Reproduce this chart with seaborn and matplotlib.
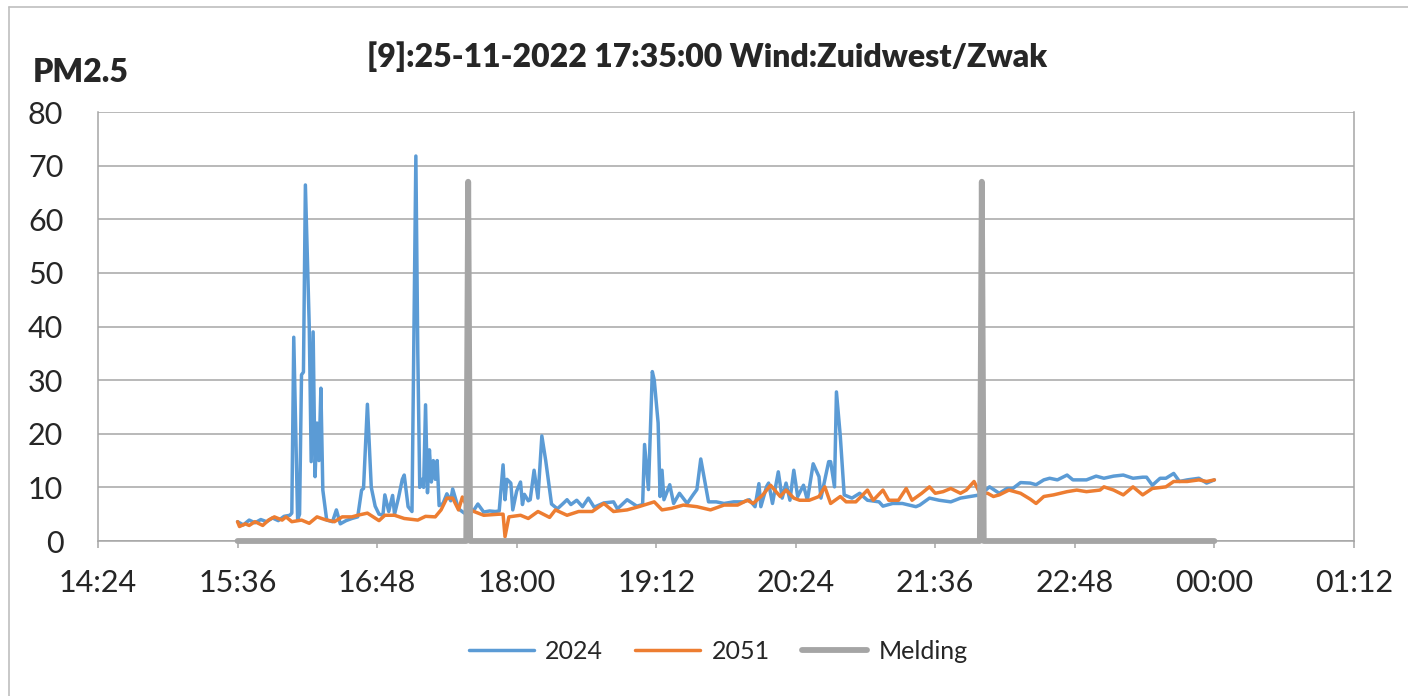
import pandas as pd
import matplotlib
matplotlib.use("Agg")
import matplotlib.pyplot as plt
import matplotlib.dates as mdates
from matplotlib.lines import Line2D
import seaborn as sns

title = "[9]:25-11-2022 17:35:00 Wind:Zuidwest/Zwak"
y_label = "PM2.5"
x_tick_labels = ["14:24", "15:36", "16:48", "18:00", "19:12", "20:24", "21:36", "22:48", "00:00", "01:12"]
y_ticks = [0, 10, 20, 30, 40, 50, 60, 70, 80]

# sensor 2024 (blue)
times_2024 = [
    "15:36", "15:39", "15:42", "15:45", "15:48", "15:51", "15:54", "15:57", "16:00", "16:03",
    "16:04", "16:05", "16:07", "16:08", "16:09", "16:10", "16:11", "16:13", "16:14", "16:15",
    "16:16", "16:17", "16:18", "16:19", "16:20", "16:22", "16:25", "16:27", "16:29", "16:32",
    "16:35", "16:38", "16:40", "16:41", "16:43", "16:45", "16:47", "16:49", "16:51", "16:52",
    "16:54", "16:56", "16:57", "16:59", "17:01", "17:02", "17:04", "17:06", "17:08", "17:09",
    "17:10", "17:11", "17:12", "17:13", "17:14", "17:15", "17:16", "17:17", "17:18", "17:19",
    "17:20", "17:22", "17:24", "17:26", "17:27", "17:30", "17:33", "17:35", "17:38", "17:40",
    "17:43", "17:46", "17:49", "17:51", "17:53", "17:54", "17:55", "17:57", "17:58", "18:00",
    "18:02", "18:03", "18:04", "18:06", "18:07", "18:09", "18:11", "18:13", "18:15", "18:18",
    "18:21", "18:24", "18:26", "18:28", "18:31", "18:34", "18:37", "18:40", "18:45", "18:50",
    "18:52", "18:57", "19:02", "19:05", "19:06", "19:08", "19:10", "19:11", "19:13", "19:14",
    "19:15", "19:16", "19:19", "19:21", "19:24", "19:28", "19:31", "19:33", "19:35", "19:39",
    "19:43", "19:47", "19:52", "19:57", "20:00", "20:03", "20:05", "20:06", "20:09", "20:10",
    "20:12", "20:15", "20:17", "20:19", "20:21", "20:23", "20:25", "20:28", "20:30", "20:33",
    "20:36", "20:37", "20:41", "20:42", "20:44", "20:45", "20:47", "20:49", "20:53", "20:57",
    "21:01", "21:07", "21:09", "21:14", "21:19", "21:26", "21:28", "21:33", "21:38", "21:44",
    "21:49", "21:54", "21:59", "22:04", "22:09", "22:13", "22:16", "22:20", "22:25", "22:28",
    "22:32", "22:35", "22:39", "22:44", "22:47", "22:49", "22:54", "22:59", "23:03", "23:08",
    "23:13", "23:18", "23:23", "23:25", "23:28", "23:32", "23:35", "23:39", "23:42", "23:46",
    "23:52", "23:56", "00:00",
]
pm_2024 = [
    3.6, 3.0, 3.9, 3.4, 4.0, 3.6, 4.3, 3.8, 4.6, 4.8,
    5.2, 38.0, 4.0, 5.0, 31.0, 31.5, 66.4, 40.0, 14.8, 39.0,
    12.0, 22.0, 15.0, 28.5, 9.5, 3.9, 3.6, 5.8, 3.2, 3.8,
    4.2, 4.5, 9.5, 9.8, 25.5, 10.0, 6.5, 5.0, 4.8, 8.6,
    5.5, 8.5, 5.0, 8.0, 11.5, 12.3, 6.4, 5.5, 71.8, 35.0,
    10.0, 11.5, 10.0, 25.4, 9.0, 17.0, 11.0, 15.0, 11.5, 15.0,
    6.6, 7.0, 8.8, 7.5, 9.7, 6.0, 5.2, 5.8, 5.8, 6.9,
    5.4, 5.6, 5.5, 5.6, 14.2, 7.7, 11.5, 10.8, 5.8, 9.3,
    11.0, 6.8, 8.7, 7.5, 7.7, 13.2, 8.0, 19.6, 15.0, 6.9,
    6.0, 7.0, 7.7, 6.8, 7.6, 6.4, 8.0, 6.3, 7.1, 7.3,
    6.0, 7.7, 6.5, 6.8, 18.0, 9.6, 31.6, 30.0, 22.0, 8.3,
    13.2, 7.7, 10.5, 7.0, 8.9, 7.0, 8.6, 9.6, 15.3, 7.3,
    7.3, 7.0, 7.3, 7.3, 7.7, 6.4, 10.7, 6.4, 10.2, 10.8,
    7.0, 12.9, 8.0, 10.8, 7.6, 13.2, 8.3, 10.4, 7.6, 14.4,
    12.0, 8.0, 14.8, 14.8, 10.1, 27.8, 19.5, 8.6, 8.0, 8.9,
    7.6, 7.3, 6.5, 7.0, 7.0, 6.4, 6.7, 8.0, 7.6, 7.3,
    8.0, 8.3, 8.6, 10.1, 8.9, 9.8, 9.8, 10.9, 10.8, 10.5,
    11.4, 11.7, 11.4, 12.3, 11.4, 11.4, 11.4, 12.1, 11.7, 12.1,
    12.3, 11.7, 11.9, 11.9, 10.4, 11.7, 11.7, 12.6, 11.1, 11.4,
    11.7, 10.8, 11.4,
]

# sensor 2051 (orange)
times_2051 = [
    "15:36", "15:37", "15:40", "15:42", "15:45", "15:49", "15:52", "15:55", "15:59", "16:01",
    "16:04", "16:09", "16:13", "16:17", "16:21", "16:26", "16:30", "16:35", "16:38", "16:43",
    "16:49", "16:52", "16:57", "17:02", "17:09", "17:13", "17:18", "17:21", "17:24", "17:27",
    "17:30", "17:32", "17:35", "17:38", "17:43", "17:51", "17:53", "17:54", "17:56", "18:02",
    "18:06", "18:11", "18:17", "18:20", "18:26", "18:32", "18:39", "18:45", "18:50", "18:57",
    "19:03", "19:11", "19:15", "19:20", "19:26", "19:33", "19:40", "19:47", "19:54", "19:59",
    "20:02", "20:07", "20:11", "20:16", "20:19", "20:23", "20:26", "20:31", "20:36", "20:39",
    "20:42", "20:47", "20:50", "20:55", "21:01", "21:04", "21:09", "21:12", "21:17", "21:21",
    "21:24", "21:29", "21:33", "21:36", "21:40", "21:44", "21:49", "21:52", "21:56", "21:59",
    "22:03", "22:06", "22:09", "22:14", "22:20", "22:25", "22:28", "22:32", "22:37", "22:44",
    "22:49", "22:54", "23:01", "23:03", "23:08", "23:13", "23:18", "23:23", "23:28", "23:35",
    "23:39", "23:46", "23:52", "23:56", "00:00",
]
pm_2051 = [
    3.6, 2.7, 3.2, 2.9, 3.6, 2.9, 3.9, 4.5, 3.9, 4.5,
    3.6, 3.9, 3.3, 4.5, 4.0, 3.6, 4.5, 4.5, 4.8, 5.2,
    3.8, 4.8, 4.8, 4.2, 3.9, 4.6, 4.5, 5.8, 8.0, 8.0,
    5.8, 8.2, 6.0, 5.5, 4.8, 5.0, 5.0, 0.8, 4.5, 4.8,
    4.2, 5.5, 4.4, 5.8, 4.8, 5.5, 5.5, 7.0, 5.5, 5.8,
    6.4, 7.3, 5.8, 6.1, 6.7, 6.4, 5.8, 6.7, 6.7, 7.6,
    7.0, 8.6, 10.4, 8.3, 9.5, 8.0, 7.6, 7.6, 8.3, 10.1,
    7.0, 8.3, 7.3, 7.3, 9.5, 7.6, 9.5, 7.6, 7.6, 9.8,
    7.6, 8.9, 10.1, 8.9, 9.2, 9.8, 8.9, 9.5, 11.1, 8.9,
    8.9, 8.3, 8.6, 9.5, 8.9, 7.8, 7.0, 8.3, 8.6, 9.2,
    9.5, 9.2, 9.5, 10.1, 9.5, 8.6, 10.1, 8.6, 9.8, 10.1,
    11.1, 11.1, 11.4, 11.1, 11.4,
]

# alarm reports (grey)
times_melding = ["15:36", "17:34", "17:35", "17:36", "21:59", "22:00", "22:01", "00:00"]
melding = [0, 0, 67, 0, 0, 67, 0, 0]


def to_stamp(hhmm):
    t = pd.Timestamp("2022-11-25 " + hhmm)
    if t.hour < 12:
        t += pd.Timedelta(days=1)
    return t


sns.set_style("white")
plt.rcParams["font.family"] = ["Lato", "DejaVu Sans"]

fig = plt.figure(figsize=(14.08, 6.96), dpi=100)
ax = fig.add_axes([0.0696, 0.2227, 0.892, 0.6163])

sns.lineplot(x=[to_stamp(t) for t in times_2024], y=pm_2024, ax=ax, color="#5B9BD5",
             linewidth=2.5, label="2024", estimator=None)
sns.lineplot(x=[to_stamp(t) for t in times_2051], y=pm_2051, ax=ax, color="#ED7D31",
             linewidth=2.5, label="2051", estimator=None)
sns.lineplot(x=[to_stamp(t) for t in times_melding], y=melding, ax=ax, color="#A5A5A5",
             linewidth=4.2, label="Melding", estimator=None, clip_on=False)

x_ticks = [to_stamp(t) for t in x_tick_labels]
ax.set_xlim(x_ticks[0], x_ticks[-1])
ax.set_xticks(x_ticks)
ax.xaxis.set_major_formatter(mdates.DateFormatter("%H:%M"))
ax.set_ylim(0, 80)
ax.set_yticks(y_ticks)

ax.grid(axis="y", color="#A6A6A6", linewidth=1.1)
ax.grid(axis="x", visible=False)
for side in ["left", "bottom", "right"]:
    ax.spines[side].set_color("#A6A6A6")
    ax.spines[side].set_linewidth(1.1)
ax.spines["top"].set_visible(False)

ax.tick_params(axis="x", direction="out", length=5, width=1.1, color="#A6A6A6",
               labelsize=22, pad=15, bottom=True)
ax.tick_params(axis="y", length=0, labelsize=22, pad=25)
ax.set_xlabel("")
ax.set_ylabel("")

fig.text(0.502, 0.918, title, ha="center", va="center", fontsize=23, fontweight="heavy")
fig.text(0.057, 0.896, y_label, ha="center", va="center", fontsize=23, fontweight="heavy")

ax.legend(loc="center", bbox_to_anchor=(0.51, 0.064), bbox_transform=fig.transFigure,
          ncol=3, frameon=False, fontsize=18, handlelength=2.6, columnspacing=1.3,
          handletextpad=0.45)

# outer chart border (left and top edges visible in the reference)
fig.add_artist(Line2D([9 / 1408, 9 / 1408], [0, 1 - 7 / 696], color="#BFBFBF", linewidth=1.2))
fig.add_artist(Line2D([9 / 1408, 1], [1 - 7 / 696, 1 - 7 / 696], color="#BFBFBF", linewidth=1.2))

fig.savefig("out.png", dpi=100)
